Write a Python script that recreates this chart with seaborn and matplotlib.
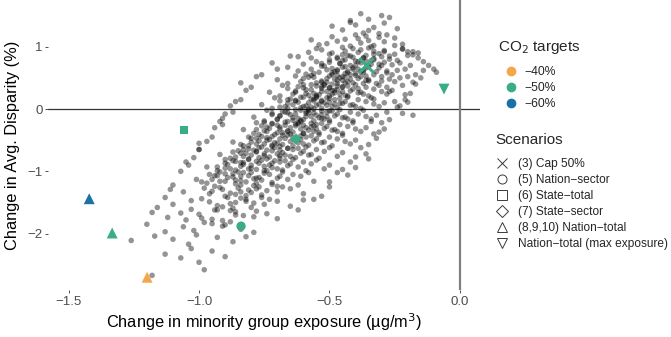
import numpy as np
import pandas as pd
import matplotlib
matplotlib.use("Agg")
import matplotlib.pyplot as plt
from matplotlib.lines import Line2D
import seaborn as sns

# background ensemble of scenarios (x = change in minority exposure, y = change in disparity)
cloud_top = [
    (-0.38, 1.53), (-0.30, 1.50), (-0.35, 1.44), (-0.27, 1.47), (-0.42, 1.42),
    (-0.40, 1.35), (-0.33, 1.31), (-0.45, 1.27), (-0.29, 1.38), (-0.37, 1.22), (-0.24, 1.29), (-0.49, 1.33),
    (-0.35, 1.26), (-0.31, 1.21), (-0.42, 1.39),
    (-0.36, 1.17), (-0.44, 1.12), (-0.29, 1.08), (-0.51, 1.05), (-0.33, 1.02), (-0.40, 1.19), (-0.25, 1.14),
    (-0.47, 1.09), (-0.38, 1.06), (-0.57, 1.11), (-0.31, 1.15), (-0.42, 1.01), (-0.22, 1.04), (-0.35, 1.10),
    (-0.49, 1.16), (-0.28, 1.19), (-0.39, 1.13), (-0.54, 1.03),
    (-0.41, 0.97), (-0.33, 0.93), (-0.50, 0.88), (-0.27, 0.85), (-0.45, 0.99), (-0.37, 0.82), (-0.58, 0.91),
    (-0.22, 0.96), (-0.43, 0.86), (-0.31, 0.89), (-0.53, 0.95), (-0.39, 0.91), (-0.18, 0.92), (-0.47, 0.81),
    (-0.35, 0.98), (-0.62, 0.84), (-0.29, 0.94), (-0.41, 0.83), (-0.25, 0.88), (-0.55, 0.97), (-0.36, 0.86),
    (-0.44, 0.93), (-0.20, 0.86), (-0.33, 0.81), (-0.49, 0.90), (-0.38, 0.95), (-0.16, 0.90), (-0.57, 0.82),
]
cloud_streak = [
    (-0.25, 1.02), (-0.22, 0.97), (-0.20, 0.92), (-0.18, 0.87), (-0.16, 0.82), (-0.14, 0.76),
    (-0.12, 0.70), (-0.10, 0.64), (-0.09, 0.59), (-0.17, 0.55), (-0.15, 0.50), (-0.19, 0.25),
    (-0.17, 0.40), (-0.18, -0.10), (-0.21, 0.15),
]
cloud_upper = [
    (-0.45, 0.78), (-0.38, 0.74), (-0.52, 0.69), (-0.31, 0.66), (-0.47, 0.63), (-0.40, 0.77), (-0.60, 0.72),
    (-0.26, 0.71), (-0.43, 0.61), (-0.35, 0.68), (-0.55, 0.76), (-0.49, 0.65), (-0.21, 0.64), (-0.42, 0.70),
    (-0.33, 0.79), (-0.66, 0.67), (-0.29, 0.75), (-0.46, 0.73), (-0.37, 0.62), (-0.57, 0.64), (-0.24, 0.78),
    (-0.50, 0.79), (-0.41, 0.66), (-0.14, 0.62), (-0.34, 0.72), (-0.62, 0.61), (-0.44, 0.68), (-0.28, 0.61),
    (-0.53, 0.73), (-0.39, 0.64), (-0.19, 0.70), (-0.72, 0.74), (-0.36, 0.77), (-0.48, 0.60),
    (-0.49, 0.58), (-0.42, 0.55), (-0.56, 0.51), (-0.35, 0.47), (-0.51, 0.43), (-0.44, 0.57), (-0.63, 0.53),
    (-0.30, 0.52), (-0.47, 0.41), (-0.39, 0.49), (-0.59, 0.56), (-0.53, 0.45), (-0.25, 0.44), (-0.46, 0.50),
    (-0.37, 0.59), (-0.70, 0.47), (-0.33, 0.55), (-0.50, 0.53), (-0.41, 0.42), (-0.61, 0.44), (-0.28, 0.58),
    (-0.54, 0.59), (-0.45, 0.46), (-0.18, 0.43), (-0.38, 0.52), (-0.66, 0.41), (-0.48, 0.48), (-0.32, 0.41),
    (-0.57, 0.54), (-0.43, 0.44), (-0.23, 0.50), (-0.76, 0.55), (-0.40, 0.57), (-0.52, 0.40), (-0.36, 0.46),
    (-0.47, 0.54), (-0.60, 0.49), (-0.27, 0.48), (-0.44, 0.51), (-0.55, 0.42),
    (-0.52, 0.38), (-0.45, 0.35), (-0.59, 0.31), (-0.38, 0.27), (-0.54, 0.23), (-0.47, 0.37), (-0.66, 0.33),
    (-0.33, 0.32), (-0.50, 0.21), (-0.42, 0.29), (-0.62, 0.36), (-0.56, 0.25), (-0.28, 0.24), (-0.49, 0.30),
    (-0.40, 0.39), (-0.73, 0.27), (-0.36, 0.35), (-0.53, 0.33), (-0.44, 0.22), (-0.64, 0.24), (-0.31, 0.38),
    (-0.57, 0.39), (-0.48, 0.26), (-0.21, 0.23), (-0.41, 0.32), (-0.69, 0.21), (-0.51, 0.28), (-0.35, 0.21),
    (-0.60, 0.34), (-0.46, 0.24), (-0.26, 0.30), (-0.80, 0.35), (-0.43, 0.37), (-0.55, 0.20), (-0.39, 0.26),
    (-0.50, 0.34), (-0.63, 0.29), (-0.30, 0.28), (-0.47, 0.31), (-0.58, 0.22), (-0.53, 0.36), (-0.37, 0.24),
    (-0.68, 0.38), (-0.45, 0.28),
]
cloud_mid = [
    (-0.55, 0.18), (-0.48, 0.15), (-0.62, 0.11), (-0.41, 0.07), (-0.57, 0.03), (-0.50, 0.17), (-0.69, 0.13),
    (-0.36, 0.12), (-0.53, 0.01), (-0.45, 0.09), (-0.65, 0.16), (-0.59, 0.05), (-0.31, 0.04), (-0.52, 0.10),
    (-0.43, 0.19), (-0.76, 0.07), (-0.39, 0.15), (-0.56, 0.13), (-0.47, 0.02), (-0.67, 0.04), (-0.34, 0.18),
    (-0.60, 0.19), (-0.51, 0.06), (-0.24, 0.03), (-0.44, 0.12), (-0.72, 0.01), (-0.54, 0.08), (-0.38, 0.01),
    (-0.63, 0.14), (-0.49, 0.04), (-0.29, 0.10), (-0.84, 0.15), (-0.46, 0.17), (-0.58, 0.00), (-0.42, 0.06),
    (-0.53, 0.14), (-0.66, 0.09), (-0.33, 0.08), (-0.50, 0.11), (-0.61, 0.02), (-0.56, 0.16), (-0.40, 0.04),
    (-0.71, 0.18), (-0.48, 0.08), (-0.20, 0.11), (-0.88, 0.05),
    (-0.58, -0.02), (-0.51, -0.05), (-0.65, -0.09), (-0.44, -0.13), (-0.60, -0.17), (-0.53, -0.03),
    (-0.72, -0.07), (-0.39, -0.08), (-0.56, -0.19), (-0.48, -0.11), (-0.68, -0.04), (-0.62, -0.15),
    (-0.34, -0.16), (-0.55, -0.10), (-0.46, -0.01), (-0.79, -0.13), (-0.42, -0.05), (-0.59, -0.07),
    (-0.50, -0.18), (-0.70, -0.16), (-0.37, -0.02), (-0.63, -0.01), (-0.54, -0.14), (-0.27, -0.17),
    (-0.47, -0.08), (-0.75, -0.19), (-0.57, -0.12), (-0.41, -0.19), (-0.66, -0.06), (-0.52, -0.16),
    (-0.32, -0.10), (-0.87, -0.05), (-0.49, -0.03), (-0.61, -0.20), (-0.45, -0.14), (-0.56, -0.06),
    (-0.69, -0.11), (-0.36, -0.12), (-0.53, -0.09), (-0.64, -0.18), (-0.59, -0.04), (-0.43, -0.16),
    (-0.74, -0.02), (-0.51, -0.12), (-0.22, -0.07), (-0.91, -0.15),
    (-0.62, -0.22), (-0.55, -0.25), (-0.69, -0.29), (-0.48, -0.33), (-0.64, -0.37), (-0.57, -0.23),
    (-0.76, -0.27), (-0.43, -0.28), (-0.60, -0.39), (-0.52, -0.31), (-0.72, -0.24), (-0.66, -0.35),
    (-0.38, -0.36), (-0.59, -0.30), (-0.50, -0.21), (-0.83, -0.33), (-0.46, -0.25), (-0.63, -0.27),
    (-0.54, -0.38), (-0.74, -0.36), (-0.41, -0.22), (-0.67, -0.21), (-0.58, -0.34), (-0.31, -0.37),
    (-0.51, -0.28), (-0.79, -0.39), (-0.61, -0.32), (-0.45, -0.39), (-0.70, -0.26), (-0.56, -0.36),
    (-0.36, -0.30), (-0.91, -0.25), (-0.53, -0.23), (-0.65, -0.40), (-0.49, -0.34), (-0.60, -0.26),
    (-0.73, -0.31), (-0.40, -0.32), (-0.57, -0.29), (-0.68, -0.38), (-0.63, -0.24), (-0.47, -0.36),
    (-0.78, -0.22), (-0.55, -0.32),
]
cloud_lowmid = [
    (-0.66, -0.42), (-0.59, -0.45), (-0.73, -0.49), (-0.52, -0.53), (-0.68, -0.57), (-0.61, -0.43),
    (-0.80, -0.47), (-0.47, -0.48), (-0.64, -0.59), (-0.56, -0.51), (-0.76, -0.44), (-0.70, -0.55),
    (-0.42, -0.56), (-0.63, -0.50), (-0.54, -0.41), (-0.87, -0.53), (-0.50, -0.45), (-0.67, -0.47),
    (-0.58, -0.58), (-0.78, -0.56), (-0.45, -0.42), (-0.71, -0.41), (-0.62, -0.54), (-0.35, -0.57),
    (-0.55, -0.48), (-0.83, -0.59), (-0.65, -0.52), (-0.49, -0.59), (-0.74, -0.46), (-0.60, -0.56),
    (-0.40, -0.50), (-0.95, -0.45), (-0.57, -0.43), (-0.69, -0.60), (-0.53, -0.54), (-0.64, -0.46),
    (-0.77, -0.51), (-0.44, -0.52), (-0.61, -0.49), (-0.72, -0.58), (-0.32, -0.47), (-1.00, -0.55),
    (-0.71, -0.62), (-0.64, -0.65), (-0.78, -0.69), (-0.57, -0.73), (-0.73, -0.77), (-0.66, -0.63),
    (-0.85, -0.67), (-0.52, -0.68), (-0.69, -0.79), (-0.61, -0.71), (-0.81, -0.64), (-0.75, -0.75),
    (-0.47, -0.76), (-0.68, -0.70), (-0.59, -0.61), (-0.92, -0.73), (-0.55, -0.65), (-0.72, -0.67),
    (-0.63, -0.78), (-0.83, -0.76), (-0.50, -0.62), (-0.76, -0.61), (-0.67, -0.74), (-0.40, -0.77),
    (-0.60, -0.68), (-0.88, -0.79), (-0.70, -0.72), (-0.54, -0.79), (-0.79, -0.66), (-0.65, -0.76),
    (-0.45, -0.70), (-1.00, -0.65), (-0.62, -0.63), (-0.74, -0.80), (-0.58, -0.74), (-0.69, -0.66),
    (-0.82, -0.71), (-0.36, -0.72),
    (-0.76, -0.82), (-0.69, -0.85), (-0.83, -0.89), (-0.62, -0.93), (-0.78, -0.97), (-0.71, -0.83),
    (-0.90, -0.87), (-0.57, -0.88), (-0.74, -0.99), (-0.66, -0.91), (-0.86, -0.84), (-0.80, -0.95),
    (-0.52, -0.96), (-0.73, -0.90), (-0.64, -0.81), (-0.97, -0.93), (-0.60, -0.85), (-0.77, -0.87),
    (-0.68, -0.98), (-0.88, -0.96), (-0.55, -0.82), (-0.81, -0.81), (-0.72, -0.94), (-0.45, -0.97),
    (-0.65, -0.88), (-0.93, -0.99), (-0.75, -0.92), (-0.59, -0.99), (-0.84, -0.86), (-0.70, -0.96),
    (-0.50, -0.90), (-1.05, -0.85), (-0.67, -0.83), (-0.40, -0.94),
]
cloud_core = [
    (-0.33, 0.88), (-0.45, 0.87), (-0.42, 0.85), (-0.30, 0.84), (-0.37, 0.82), (-0.47, 0.83),
    (-0.44, 0.79), (-0.34, 0.78), (-0.39, 0.76), (-0.50, 0.75), (-0.46, 0.73), (-0.31, 0.72),
    (-0.40, 0.70), (-0.53, 0.69), (-0.45, 0.67), (-0.36, 0.66), (-0.41, 0.64), (-0.51, 0.63),
    (-0.47, 0.61), (-0.38, 0.60), (-0.43, 0.58), (-0.56, 0.57), (-0.49, 0.55), (-0.40, 0.54),
    (-0.45, 0.52), (-0.58, 0.51), (-0.51, 0.49), (-0.42, 0.48), (-0.47, 0.46), (-0.35, 0.45),
    (-0.53, 0.43), (-0.44, 0.42), (-0.49, 0.40), (-0.60, 0.39), (-0.55, 0.37), (-0.45, 0.36),
    (-0.50, 0.34), (-0.39, 0.33), (-0.57, 0.31), (-0.48, 0.30), (-0.53, 0.28), (-0.63, 0.27),
    (-0.59, 0.25), (-0.49, 0.24), (-0.55, 0.22), (-0.43, 0.21), (-0.61, 0.19), (-0.51, 0.18),
    (-0.57, 0.16), (-0.66, 0.15), (-0.63, 0.13), (-0.53, 0.12), (-0.58, 0.10), (-0.46, 0.09),
    (-0.64, 0.07), (-0.55, 0.06), (-0.60, 0.04), (-0.69, 0.03), (-0.66, 0.01), (-0.56, 0.00),
    (-0.61, -0.02), (-0.50, -0.03), (-0.67, -0.05), (-0.58, -0.06), (-0.63, -0.08), (-0.72, -0.09),
    (-0.69, -0.11), (-0.59, -0.12), (-0.64, -0.14), (-0.53, -0.15), (-0.70, -0.17), (-0.61, -0.18),
    (-0.66, -0.20), (-0.75, -0.21), (-0.72, -0.23), (-0.62, -0.24), (-0.67, -0.26), (-0.56, -0.27),
    (-0.74, -0.29), (-0.65, -0.30), (-0.69, -0.32), (-0.78, -0.33), (-0.75, -0.35), (-0.66, -0.36),
    (-0.70, -0.38), (-0.60, -0.39), (-0.77, -0.41), (-0.68, -0.42), (-0.72, -0.44), (-0.81, -0.45),
    (-0.78, -0.47), (-0.69, -0.48), (-0.74, -0.50), (-0.63, -0.51), (-0.80, -0.53), (-0.71, -0.54),
    (-0.75, -0.56), (-0.84, -0.57), (-0.81, -0.59), (-0.72, -0.60), (-0.77, -0.62), (-0.66, -0.63),
    (-0.83, -0.65), (-0.74, -0.66), (-0.78, -0.68), (-0.87, -0.69), (-0.84, -0.71), (-0.75, -0.72),
    (-0.80, -0.74), (-0.69, -0.75), (-0.86, -0.77), (-0.77, -0.78), (-0.81, -0.80), (-0.90, -0.81),
    (-0.87, -0.83), (-0.78, -0.84), (-0.83, -0.86), (-0.72, -0.87), (-0.89, -0.89), (-0.80, -0.90),
    (-0.84, -0.92), (-0.93, -0.93), (-0.90, -0.95), (-0.81, -0.96), (-0.86, -0.98), (-0.75, -0.99),
    (-0.92, -1.01), (-0.83, -1.02), (-0.87, -1.04), (-0.96, -1.05), (-0.93, -1.07), (-0.84, -1.08),
    (-0.89, -1.10), (-0.78, -1.11), (-0.95, -1.13), (-0.86, -1.14), (-0.90, -1.16), (-0.99, -1.17),
    (-0.30, 0.70), (-0.27, 0.80), (-0.32, 0.60), (-0.26, 0.55), (-0.29, 0.92), (-0.34, 1.00),
    (-0.23, 0.74), (-0.36, 0.53), (-0.30, 0.45), (-0.28, 0.35), (-0.33, 0.16), (-0.37, 0.41),
]
cloud_edge = [
    (-0.78, 0.52), (-0.82, 0.30), (-0.86, 0.12), (-0.90, -0.08), (-0.94, -0.30), (-0.97, -0.52),
    (-1.02, -0.78), (-1.07, -1.00), (-1.10, -1.22), (-1.13, -1.42), (-0.70, 0.64), (-0.65, 0.85),
    (-0.84, 0.42), (-0.92, -0.20), (-1.00, -0.65), (-1.04, -0.90),
    (-0.24, 0.62), (-0.20, 0.52), (-0.22, 0.38), (-0.27, 0.28), (-0.23, 0.05), (-0.25, 0.12),
    (-0.28, -0.05), (-0.30, -0.22), (-0.34, -0.20), (-0.33, -0.40), (-0.29, -0.32), (-0.38, -0.62),
    (-0.35, -0.80), (-0.42, -0.85), (-0.47, -1.02), (-0.50, -1.25), (-0.56, -1.45), (-0.62, -1.62),
]
cloud_low = [
    (-0.80, -1.02), (-0.73, -1.05), (-0.87, -1.09), (-0.66, -1.13), (-0.82, -1.17), (-0.75, -1.03),
    (-0.94, -1.07), (-0.61, -1.08), (-0.78, -1.19), (-0.70, -1.11), (-0.90, -1.04), (-0.84, -1.15),
    (-0.56, -1.16), (-0.77, -1.10), (-0.68, -1.01), (-1.01, -1.13), (-0.64, -1.05), (-0.81, -1.07),
    (-0.72, -1.18), (-0.92, -1.16), (-0.58, -1.02), (-0.85, -1.01), (-0.76, -1.14), (-0.43, -1.06),
    (-0.69, -1.08), (-0.97, -1.19), (-0.79, -1.12), (-0.50, -1.17),
    (-0.84, -1.22), (-0.77, -1.25), (-0.91, -1.29), (-0.70, -1.33), (-0.86, -1.37), (-0.79, -1.23),
    (-0.98, -1.27), (-0.65, -1.28), (-0.82, -1.39), (-0.74, -1.31), (-0.94, -1.24), (-0.88, -1.35),
    (-0.60, -1.36), (-0.81, -1.30), (-0.72, -1.21), (-1.06, -1.33), (-0.68, -1.25), (-0.85, -1.27),
    (-0.76, -1.38), (-0.96, -1.36), (-0.62, -1.22), (-1.11, -1.29), (-0.53, -1.40), (-0.80, -1.34),
    (-0.89, -1.42), (-0.82, -1.45), (-0.96, -1.49), (-0.75, -1.53), (-0.91, -1.57), (-0.84, -1.43),
    (-1.03, -1.47), (-0.70, -1.48), (-0.87, -1.59), (-0.79, -1.51), (-0.99, -1.44), (-0.93, -1.55),
    (-0.65, -1.56), (-0.86, -1.50), (-1.10, -1.53), (-0.73, -1.45), (-1.16, -1.58), (-0.60, -1.46),
    (-0.86, -1.20), (-0.92, -1.26), (-0.78, -1.28), (-0.84, -1.33), (-0.90, -1.40), (-0.76, -1.42),
    (-0.82, -1.48), (-0.95, -1.32), (-0.70, -1.24), (-0.88, -1.52), (-0.80, -1.58), (-0.94, -1.62),
]
cloud_tail = [
    (-0.93, -1.62), (-0.86, -1.65), (-1.00, -1.69), (-0.79, -1.73), (-0.95, -1.77), (-0.88, -1.63),
    (-1.07, -1.67), (-0.74, -1.68), (-0.91, -1.79), (-1.12, -1.74), (-0.83, -1.71), (-1.03, -1.61),
    (-0.70, -1.76), (-1.18, -1.66), (-0.86, -1.70), (-0.99, -1.75), (-0.78, -1.64), (-1.05, -1.78),
    (-0.98, -1.82), (-0.90, -1.86), (-1.06, -1.89), (-0.84, -1.93), (-1.13, -1.97), (-0.95, -1.84),
    (-1.20, -1.85), (-0.79, -1.98), (-1.02, -1.95), (-0.88, -1.81), (-0.91, -1.88),
    (-1.01, -2.02), (-0.93, -2.06), (-1.10, -2.09), (-0.87, -2.13), (-1.17, -2.04), (-1.04, -2.17),
    (-1.26, -2.11), (-0.82, -2.05),
    (-1.03, -2.24), (-0.95, -2.28), (-1.13, -2.33), (-0.90, -2.37), (-1.07, -2.39),
    (-1.00, -2.46), (-0.98, -2.58), (-1.18, -2.67),
]

# highlighted scenarios
scen_x = [-0.36, -0.061, -1.057, -0.628, -0.839, -1.421, -1.333, -1.199]
scen_y = [0.706, 0.32, -0.337, -0.48, -1.88, -1.44, -1.99, -2.70]
scen_target = ["−50%", "−50%", "−50%", "−50%", "−50%", "−60%", "−50%", "−40%"]
scen_name = ["(3) Cap 50%", "Nation−total (max exposure)", "(6) State−total", "(7) State−sector",
             "(5) Nation−sector", "(8,9,10) Nation−total", "(8,9,10) Nation−total", "(8,9,10) Nation−total"]

targets = ["−40%", "−50%", "−60%"]
target_colors = ["#F5A54A", "#3AAD84", "#1A71A5"]
scenarios = ["(3) Cap 50%", "(5) Nation−sector", "(6) State−total", "(7) State−sector",
             "(8,9,10) Nation−total", "Nation−total (max exposure)"]
scenario_markers = ["x", "o", "s", "D", "^", "v"]
scenario_sizes = [110, 45, 32, 32, 62, 62]

cloud = pd.DataFrame(cloud_top + cloud_streak + cloud_upper + cloud_mid + cloud_core + cloud_edge
                     + cloud_lowmid + cloud_low + cloud_tail, columns=["exposure", "disparity"])
scen = pd.DataFrame({"exposure": scen_x, "disparity": scen_y, "target": scen_target, "scenario": scen_name})

sns.set_theme(style="white")
plt.rcParams["font.family"] = ["Liberation Sans", "DejaVu Sans"]

fig, ax = plt.subplots(figsize=(6.71, 3.37), dpi=100)
fig.subplots_adjust(left=48 / 671, right=480 / 671, top=1.0, bottom=47 / 337)

ax.axhline(0, color="#333333", lw=0.9, zorder=1)
ax.axvline(0, color="#808080", lw=1.6, zorder=1)

sns.scatterplot(data=cloud, x="exposure", y="disparity", color="black", alpha=0.42, s=16,
                edgecolor="none", ax=ax, legend=False, zorder=2)

pal = dict(zip(targets, target_colors))
filled = scen[scen["scenario"] != "(3) Cap 50%"]
sns.scatterplot(data=filled, x="exposure", y="disparity", hue="target", palette=pal,
                style="scenario", markers=dict(zip(scenarios[1:], scenario_markers[1:])),
                size="scenario", sizes=dict(zip(scenarios[1:], scenario_sizes[1:])),
                edgecolor="none", ax=ax, legend=False, zorder=3)
cross = scen[scen["scenario"] == "(3) Cap 50%"]
sns.scatterplot(data=cross, x="exposure", y="disparity", hue="target", palette=pal, marker="x",
                s=scenario_sizes[0], linewidth=2.2, ax=ax, legend=False, zorder=4)

ax.set_xlim(-1.579, 0.077)
ax.set_ylim(-2.905, 1.75)
ax.set_xticks([-1.5, -1.0, -0.5, 0.0])
ax.set_yticks([-2, -1, 0, 1])
ax.set_xticklabels(["−1.5", "−1.0", "−0.5", "0.0"])
ax.set_yticklabels(["−2", "−1", "0", "1"])
for s in ax.spines.values():
    s.set_visible(False)
ax.tick_params(axis="both", length=2.5, width=0.6, color="#333333", labelcolor="#4D4D4D",
               labelsize=9.5, pad=1.5, left=True, bottom=True)

ax.set_xlabel("Change in minority group exposure (µg/m$^3$)", fontsize=11.8, color="black")
ax.set_ylabel("Change in Avg. Disparity (%)", fontsize=11.8, color="black")
ax.xaxis.set_label_coords((264 - 48) / 432, (290 - 322) / 290)
ax.xaxis.label.set_va("center")
ax.yaxis.set_label_coords((13 - 48) / 432, 0.5)
ax.yaxis.label.set_va("center")

# legends: titles as text, entries as legends without titles
fig.text(498 / 671, 1 - 47 / 337, "CO$_2$ targets", fontsize=11, va="center", ha="left")
fig.text(495 / 671, 1 - 140 / 337, "Scenarios", fontsize=11, va="center", ha="left")

color_handles = [Line2D([], [], marker="o", linestyle="", color=c, markersize=7, markeredgewidth=0)
                 for c in target_colors]
fig.legend(color_handles, targets, loc="upper left", bbox_to_anchor=(504 / 671, 1 - 66 / 337),
           frameon=False, fontsize=8.7, handlelength=1.1, handletextpad=0.6,
           labelspacing=0.35, borderpad=0, borderaxespad=0)
shape_handles = [Line2D([], [], marker=m, linestyle="", markerfacecolor="none",
                        markeredgecolor="#3a3a3a", color="#3a3a3a", markeredgewidth=0.7,
                        markersize=6.5)
                 for m in scenario_markers]
fig.legend(shape_handles, scenarios, loc="upper left", bbox_to_anchor=(496 / 671, 1 - 158 / 337),
           frameon=False, fontsize=8.6, handlelength=1.0, handletextpad=0.8,
           labelspacing=0.33, borderpad=0, borderaxespad=0)

fig.savefig("out.png", dpi=100)
